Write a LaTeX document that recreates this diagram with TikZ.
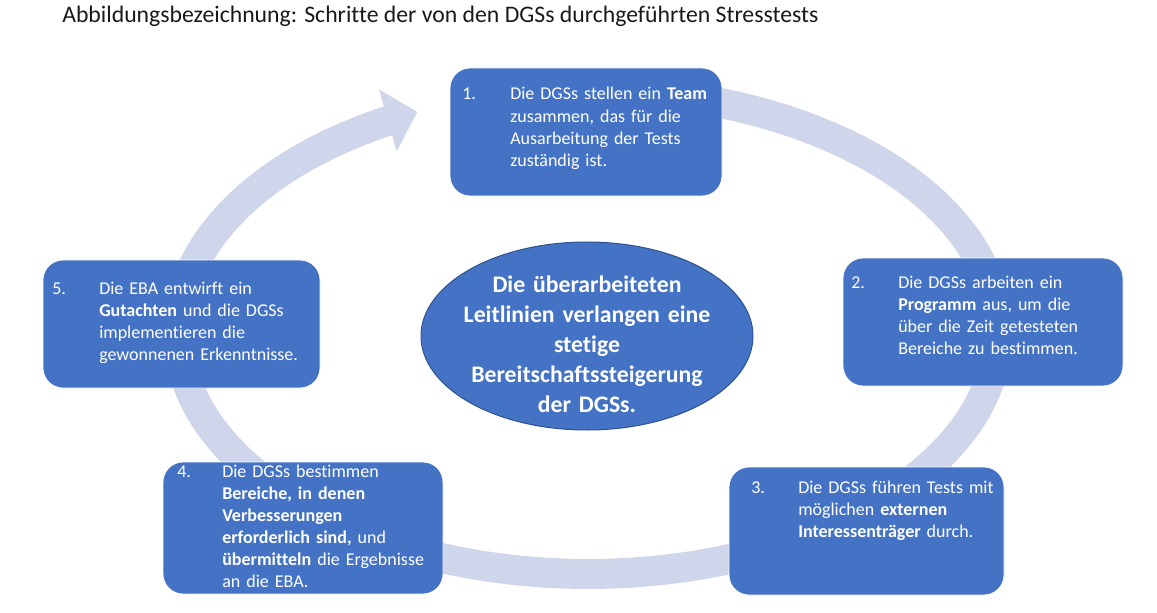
\documentclass[tikz,border=0pt]{standalone}
\usepackage{fontspec}
\setmainfont{Carlito}[Ligatures=NoCommon]
\usetikzlibrary{shapes.geometric,arrows.meta}
\definecolor{boxblue}{HTML}{4472C4}
\definecolor{ringblue}{HTML}{CFD5EA}
\definecolor{goalline}{HTML}{2F528F}
\tikzset{
  stepbox/.style={draw=white, line width=0.6pt, fill=boxblue, rounded corners=15pt, inner sep=0pt},
  stepnum/.style={anchor=base west, inner sep=0pt, text=white, font=\fontsize{13.5}{16.6}\selectfont},
  steptext/.style={anchor=base west, inner sep=0pt, text=white, align=left, text width=210pt, font=\fontsize{13.5}{16.6}\selectfont},
  ring/.style={ringblue, line width=22.5pt, -{Triangle[width=47pt,length=23pt]}}
}
\begin{document}
\begin{tikzpicture}[x=0.75pt,y=-0.75pt]
\useasboundingbox (0,0) rectangle (1157,613);

\node[anchor=base west, inner sep=0pt, text=black!90, font=\fontsize{17.8}{21}\selectfont] (title) at (62,23) {Abbildungsbezeichnung: Schritte der von den DGSs durchgeführten Stresstests};

\draw[ring] plot[domain=270:605.4, samples=140] ({588+410*cos(\x)},{332+242*sin(\x)});

\node[stepbox, minimum width=204pt, minimum height=96pt] (s1) at (586,132) {};
\node[stepbox, minimum width=210pt, minimum height=96pt] (s2) at (983,322) {};
\node[stepbox, minimum width=206.25pt, minimum height=96pt] (s3) at (866.5,531) {};
\node[stepbox, minimum width=210pt, minimum height=99pt] (s4) at (303,528) {};
\node[stepbox, minimum width=207.75pt, minimum height=96pt] (s5) at (181.5,324) {};

\node[stepnum] (n1) at (462,100) {1.};
\node[steptext] (t1) at (510,100) {Die DGSs stellen ein \textbf{Team}\\zusammen, das für die\\Ausarbeitung der Tests\\zuständig ist.};

\node[stepnum] (n2) at (851,288) {2.};
\node[steptext] (t2) at (898,288) {Die DGSs arbeiten ein\\\textbf{Programm} aus, um die\\über die Zeit getesteten\\Bereiche zu bestimmen.};

\node[stepnum] (n3) at (751,493) {3.};
\node[steptext] (t3) at (798,493) {Die DGSs führen Tests mit\\möglichen \textbf{externen}\\\textbf{Interessenträger} durch.};

\node[stepnum] (n4) at (177,477) {4.};
\node[steptext] (t4) at (222,477) {Die DGSs bestimmen\\\textbf{Bereiche, in denen}\\\textbf{Verbesserungen}\\\textbf{erforderlich sind,} und\\\textbf{übermitteln} die Ergebnisse\\an die EBA.};

\node[stepnum] (n5) at (52,294) {5.};
\node[steptext] (t5) at (99,294) {Die EBA entwirft ein\\\textbf{Gutachten} und die DGSs\\implementieren die\\gewonnenen Erkenntnisse.};

\node[ellipse, draw=goalline, line width=0.75pt, fill=boxblue, minimum width=249pt, minimum height=141pt, inner sep=0pt] (goal) at (587,336) {};
\node[anchor=base, align=center, text width=240pt, inner sep=0pt, text=white, font=\bfseries\fontsize{17.8}{22.5}\selectfont] (goaltext) at (587,292) {Die überarbeiteten\\Leitlinien verlangen eine\\stetige\\Bereitschaftssteigerung\\der DGSs.};
\end{tikzpicture}
\end{document}
